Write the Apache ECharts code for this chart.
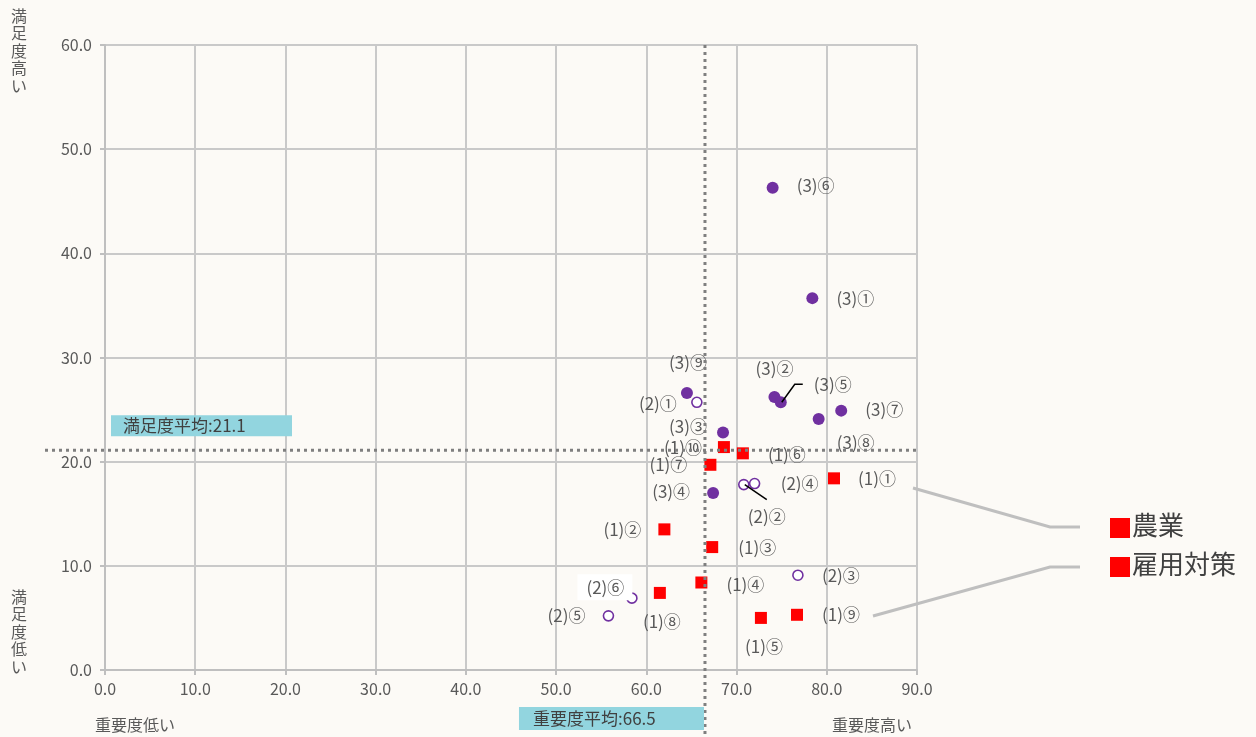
<!DOCTYPE html>
<html><head><meta charset="utf-8">
<script src="https://cdn.jsdelivr.net/npm/echarts@6/dist/echarts.min.js"></script>
<style>html,body{margin:0;padding:0;background:#fcfaf6;}#c{width:1256px;height:737px;}</style>
</head><body><div id="c"></div>
<script>
// ---- data ----
const series1Names = ["(1)①","(1)②","(1)③","(1)④","(1)⑤","(1)⑥","(1)⑦","(1)⑧","(1)⑨","(1)⑩"];
const series1X = [80.8, 62.0, 67.3, 66.1, 72.7, 70.7, 67.1, 61.5, 76.7, 68.6];
const series1Y = [18.4, 13.5, 11.8, 8.4, 5.0, 20.8, 19.7, 7.4, 5.3, 21.4];
const series2Names = ["(2)①","(2)②","(2)③","(2)④","(2)⑤","(2)⑥"];
const series2X = [65.6, 70.8, 76.8, 72.0, 55.8, 58.4];
const series2Y = [25.7, 17.8, 9.1, 17.9, 5.2, 6.9];
const series3Names = ["(3)①","(3)②","(3)③","(3)④","(3)⑤","(3)⑥","(3)⑦","(3)⑧","(3)⑨"];
const series3X = [78.4, 74.2, 68.5, 67.4, 74.9, 74.0, 81.6, 79.1, 64.5];
const series3Y = [35.7, 26.2, 22.8, 17.0, 25.7, 46.3, 24.9, 24.1, 26.6];
const importanceAvg = 66.5;
const satisfactionAvg = 21.1;
const xTicks = {min: 0, max: 90, interval: 10};
const yTicks = {min: 0, max: 60, interval: 10};
const legendItems = ["農業", "雇用対策"];

// ---- layout (label offsets in px, not data) ----
const labelOffsets = {
 "(1)①":[43,0],"(1)②":[-42,0],"(1)③":[45,0],"(1)④":[44,2],"(1)⑤":[3,29],
 "(1)⑥":[44,1],"(1)⑦":[-42,0],"(1)⑧":[2,29],"(1)⑨":[44,0],"(1)⑩":[-41,0],
 "(2)①":[-39,1],"(2)②":[23,32],"(2)③":[43,0],"(2)④":[45,0],"(2)⑤":[-42,0],"(2)⑥":[-27,-11],
 "(3)①":[43,0],"(3)②":[0,-29],"(3)③":[-35,-6],"(3)④":[-42,-1],"(3)⑤":[52,-18],
 "(3)⑥":[43,-2],"(3)⑦":[43,-1],"(3)⑧":[37,24],"(3)⑨":[1,-30]
};
const FONT = '"Noto Sans CJK JP", "Noto Sans", sans-serif';
const TXT = '#595959';

function build(names, xs, ys) {
  return names.map((n, i) => {
    const o = labelOffsets[n] || [0,0];
    const item = {name: n, value: [xs[i], ys[i]], label: {offset: o}};
    if (n === "(2)⑥") {
      item.label.backgroundColor = '#ffffff';
      item.label.padding = [5, 8, 4, 9];
    }
    return item;
  });
}
const baseLabel = {
  show: true, position: 'inside', formatter: p => p.name,
  color: TXT, fontSize: 17, fontFamily: FONT, align: 'center', verticalAlign: 'middle'
};

const chart = echarts.init(document.getElementById('c'), null, {renderer: 'canvas'});
const axisCommon = {
  axisLine: {show: true, onZero: false, lineStyle: {color: '#bfbfbf', width: 2}},
  axisTick: {show: true, length: 5, lineStyle: {color: '#bfbfbf', width: 2}},
  splitLine: {show: true, lineStyle: {color: '#c9c9c9', width: 2}},
  axisLabel: {color: TXT, fontSize: 16, fontFamily: FONT, formatter: v => v.toFixed(1)}
};
chart.setOption({
  animation: false,
  backgroundColor: '#fcfaf6',
  grid: {left: 105, right: 339, top: 45, bottom: 67, containLabel: false},
  xAxis: Object.assign({type: 'value', min: xTicks.min, max: xTicks.max, interval: xTicks.interval}, axisCommon,
    {axisLabel: Object.assign({}, axisCommon.axisLabel, {margin: 11})}),
  yAxis: Object.assign({type: 'value', min: yTicks.min, max: yTicks.max, interval: yTicks.interval}, axisCommon,
    {axisLabel: Object.assign({}, axisCommon.axisLabel, {margin: 13})}),
  series: [
    {type: 'scatter', name: '(1)', symbol: 'rect', symbolSize: 12, z: 3,
     itemStyle: {color: '#ff0000', opacity: 1}, label: baseLabel, data: build(series1Names, series1X, series1Y)},
    {type: 'scatter', name: '(2)', symbol: 'circle', symbolSize: 10, z: 3,
     itemStyle: {color: '#ffffff', borderColor: '#7030a0', borderWidth: 1.6, opacity: 1}, label: baseLabel,
     data: build(series2Names, series2X, series2Y)},
    {type: 'scatter', name: '(3)', symbol: 'circle', symbolSize: 12, z: 3,
     itemStyle: {color: '#7030a0', opacity: 1}, label: baseLabel, data: build(series3Names, series3X, series3Y)}
  ]
});

// ---- overlays computed through the chart's scales ----
const px = (x, y) => chart.convertToPixel({gridIndex: 0}, [x, y]);
const avgX = px(importanceAvg, 0)[0];
const avgY = px(0, satisfactionAvg)[1];
const gTop = px(0, yTicks.max)[1];
const gRight = px(xTicks.max, 0)[0];
const p35 = px(series3X[4], series3Y[4]);
const p22 = px(series2X[1], series2Y[1]);
const dash = {stroke: '#7f7f7f', lineWidth: 3, lineDash: [3, 4]};
const graphics = [
  {type: 'line', z: 10, shape: {x1: avgX, y1: gTop, x2: avgX, y2: 737}, style: dash},
  {type: 'line', z: 10, shape: {x1: 45, y1: avgY, x2: gRight, y2: avgY}, style: dash},
  // avg label boxes
  {type: 'text', z: 20, left: 111, top: avgY - 35,
   style: {text: '満足度平均:' + satisfactionAvg.toFixed(1), fill: '#404040', font: '17px ' + FONT,
     backgroundColor: '#92d5df', padding: [2, 12, 2, 12], width: 157}},
  {type: 'text', z: 20, left: avgX - 186, top: 707,
   style: {text: '重要度平均:' + importanceAvg.toFixed(1), fill: '#404040', font: '17px ' + FONT,
     backgroundColor: '#92d5df', padding: [3, 14, 3, 14], width: 157}},
  // leader lines
  {type: 'polyline', z: 5, shape: {points: [[p35[0] + 1, p35[1]], [p35[0] + 14, p35[1] - 18], [p35[0] + 22, p35[1] - 18]]},
   style: {stroke: '#000', lineWidth: 1.5, fill: null}},
  {type: 'line', z: 5, shape: {x1: p22[0] + 1, y1: p22[1], x2: p22[0] + 23, y2: p22[1] + 15},
   style: {stroke: '#000', lineWidth: 1.5}},
  // axis end titles
  {type: 'text', left: 11, top: 7, style: {text: '満\n足\n度\n高\nい', fill: TXT, font: '16px ' + FONT, lineHeight: 17.5}},
  {type: 'text', left: 11, top: 588, style: {text: '満\n足\n度\n低\nい', fill: TXT, font: '16px ' + FONT, lineHeight: 17.5}},
  {type: 'text', left: 95, top: 717, style: {text: '重要度低い', fill: TXT, font: '16px ' + FONT}},
  {type: 'text', left: 832, top: 717, style: {text: '重要度高い', fill: TXT, font: '16px ' + FONT}},
  // legend connectors
  {type: 'polyline', shape: {points: [[913, 488], [1050, 527], [1080, 527]]}, style: {stroke: '#bfbfbf', lineWidth: 3, fill: null}},
  {type: 'polyline', shape: {points: [[873, 616], [1050, 567], [1080, 567]]}, style: {stroke: '#bfbfbf', lineWidth: 3, fill: null}},
  // legend
  {type: 'rect', shape: {x: 1110, y: 518, width: 20, height: 20}, style: {fill: '#ff0000'}},
  {type: 'text', left: 1132, top: 512, style: {text: legendItems[0], fill: '#404040', font: '26px ' + FONT}},
  {type: 'rect', shape: {x: 1110, y: 557, width: 20, height: 20}, style: {fill: '#ff0000'}},
  {type: 'text', left: 1132, top: 551, style: {text: legendItems[1], fill: '#404040', font: '26px ' + FONT}}
];
chart.setOption({graphic: graphics});
</script>
</body></html>
